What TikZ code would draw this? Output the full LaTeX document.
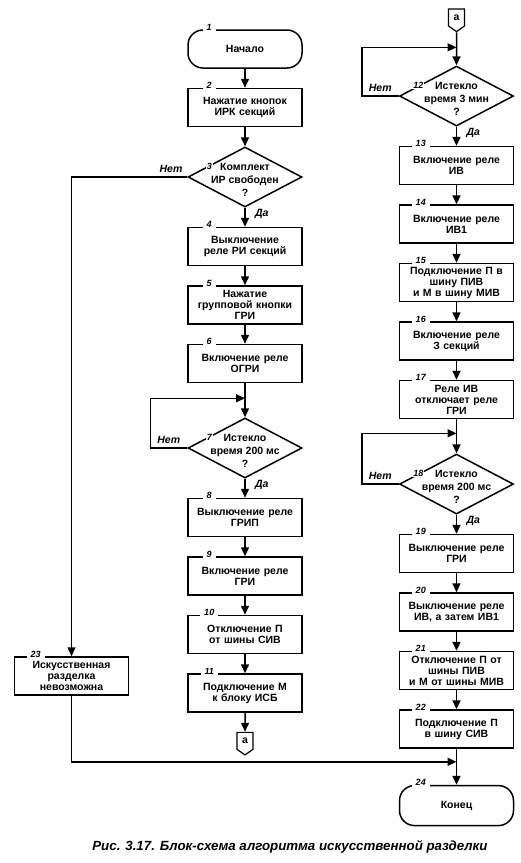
\documentclass[tikz,border=0pt]{standalone}
\usepackage{fontspec}
\setmainfont{Liberation Sans}
\usetikzlibrary{positioning,arrows.meta,shapes.geometric,shapes.symbols}

\begin{document}
\begin{tikzpicture}[
            x=1pt, y=1pt,
            font=\bfseries\fontsize{10.5}{11}\selectfont,
            block/.style={
                draw,
                line width=1.5pt,
                align=center,
                minimum width=114pt,
                minimum height=38pt,
                text width=112pt,
                inner sep=0pt
            },
            term/.style={block, rounded corners=15pt},
            decision/.style={
                draw,
                diamond,
                line width=1.5pt,
                minimum width=114pt,
                minimum height=60pt,
                inner sep=0pt
            },
            dtext/.style={align=center, font=\bfseries\fontsize{10.5}{13}\selectfont},
            conn/.style={
                draw,
                signal,
                signal to=south,
                signal from=nowhere,
                signal pointer angle=110,
                line width=1.2pt,
                minimum width=16pt,
                minimum height=19pt,
                inner sep=0pt
            },
            num/.style={font=\bfseries\itshape\fontsize{9}{9}\selectfont, fill=white, inner xsep=4pt, inner ysep=1pt},
            lbl/.style={font=\bfseries\itshape\fontsize{10.5}{10.5}\selectfont},
            arrow/.style={-{Triangle[length=9pt,width=8pt]}, line width=1.5pt},
            node distance=19pt
        ]
        \useasboundingbox (0,0) rectangle (520,-863);

        % Левая ветвь
        \node[term] (b1) at (245,-49) {Начало};
        \node[block, below=of b1] (b2) {Нажатие кнопок\\ИРК секций};
        \node[decision, below=of b2] (d3) {};
        \node[dtext] (t3) at ([yshift=-3pt]d3) {Комплект\\ИР свободен\\?};
        \node[block, below=of d3] (b4) {Выключение\\реле РИ секций};
        \node[block, below=of b4] (b5) {Нажатие\\групповой кнопки\\ГРИ};
        \node[block, below=of b5] (b6) {Включение реле\\ОГРИ};
        \node[decision, below=34pt of b6] (d7) {};
        \node[dtext] (t7) at ([yshift=-3pt]d7) {Истекло\\время 200 мс\\?};
        \node[block, below=of d7] (b8) {Выключение реле\\ГРИП};
        \node[block, below=of b8] (b9) {Включение реле\\ГРИ};
        \node[block, below=of b9] (b10) {Отключение П\\от шины СИВ};
        \node[block, below=of b10] (b11) {Подключение М\\к блоку ИСБ};
        \node[conn, below=of b11] (a1) {а};
        \node[block] (b23) at (71.5,-676) {Искусственная\\разделка\\невозможна};

        % Правая ветвь
        \node[conn] (a2) at (456.5,-17.5) {а};
        \node[decision, below=33pt of a2] (d12) {};
        \node[dtext] (t12) at ([yshift=-3pt]d12) {Истекло\\время 3 мин\\?};
        \node[block, below=of d12] (b13) {Включение реле\\ИВ};
        \node[block, below=of b13] (b14) {Включение реле\\ИВ1};
        \node[block, below=of b14] (b15) {Подключение П в\\шину ПИВ\\и М в шину МИВ};
        \node[block, below=of b15] (b16) {Включение реле\\З секций};
        \node[block, below=of b16] (b17) {Реле ИВ\\отключает реле\\ГРИ};
        \node[decision, below=34pt of b17] (d18) {};
        \node[dtext] (t18) at ([yshift=-3pt]d18) {Истекло\\время 200 мс\\?};
        \node[block, below=of d18] (b19) {Выключение реле\\ГРИ};
        \node[block, below=of b19] (b20) {Выключение реле\\ИВ, а затем ИВ1};
        \node[block, below=of b20] (b21) {Отключение П от\\шины ПИВ\\и М от шины МИВ};
        \node[block, below=of b21] (b22) {Подключение П\\в шину СИВ};
        \node[term, below=36pt of b22, minimum height=40pt] (b24) {Конец};

        % Номера блоков
        \foreach \n in {1,2,4,5,6,8,9,10,11,13,14,15,16,17,19,20,21,22,23,24}
            \node[num] (n\n) at ([xshift=22pt,yshift=2pt]b\n.north west) {\n};
        \foreach \n in {3,7,12,18}
            \node[num, inner xsep=1pt, anchor=east] (n\n) at ([xshift=-32pt,yshift=11pt]d\n) {\n};

        % Точки слияния
        \coordinate (j7) at ([yshift=19pt]d7.north);
        \coordinate (j12) at ([yshift=18pt]d12.north);
        \coordinate (j18) at ([yshift=20pt]d18.north);
        \coordinate (j24) at ([yshift=23pt]b24.north);

        \draw[arrow] (b1) -- (b2);
        \draw[arrow] (b2) -- (d3);
        \draw[arrow] (d3) -- node[lbl, right=6pt, pos=0.3] {Да} (b4);
        \draw[arrow] (b4) -- (b5);
        \draw[arrow] (b5) -- (b6);
        \draw[arrow] (b6) -- (d7);
        \draw[arrow] (d7.west) -- node[lbl, above] {Нет} ++(-37pt,0) |- (j7);
        \draw[arrow] (d7) -- node[lbl, right=6pt, pos=0.3] {Да} (b8);
        \draw[arrow] (b8) -- (b9);
        \draw[arrow] (b9) -- (b10);
        \draw[arrow] (b10) -- (b11);
        \draw[arrow] (b11) -- (a1);
        \draw[arrow] (d3.west) -| node[lbl, above, pos=0.07] {Нет} (b23.north);

        \draw[arrow] (a2) -- (d12);
        \draw[arrow] (d12.west) -- node[lbl, above] {Нет} ++(-37pt,0) |- (j12);
        \draw[arrow] (d12) -- node[lbl, right=6pt, pos=0.3] {Да} (b13);
        \draw[arrow] (b13) -- (b14);
        \draw[arrow] (b14) -- (b15);
        \draw[arrow] (b15) -- (b16);
        \draw[arrow] (b16) -- (b17);
        \draw[arrow] (b17) -- (d18);
        \draw[arrow] (d18.west) -- node[lbl, above] {Нет} ++(-37pt,0) |- (j18);
        \draw[arrow] (d18) -- node[lbl, right=6pt, pos=0.3] {Да} (b19);
        \draw[arrow] (b19) -- (b20);
        \draw[arrow] (b20) -- (b21);
        \draw[arrow] (b21) -- (b22);
        \draw[arrow] (b22) -- (b24);

        % Выход из левой ветви
        \draw[arrow] (b23.south) |- (j24);

        \node[font=\bfseries\itshape\fontsize{13.3}{13.3}\selectfont] (cap) at (290,-847)
            {Рис. 3.17. Блок-схема алгоритма искусственной разделки};
        \end{tikzpicture}
\end{document}
